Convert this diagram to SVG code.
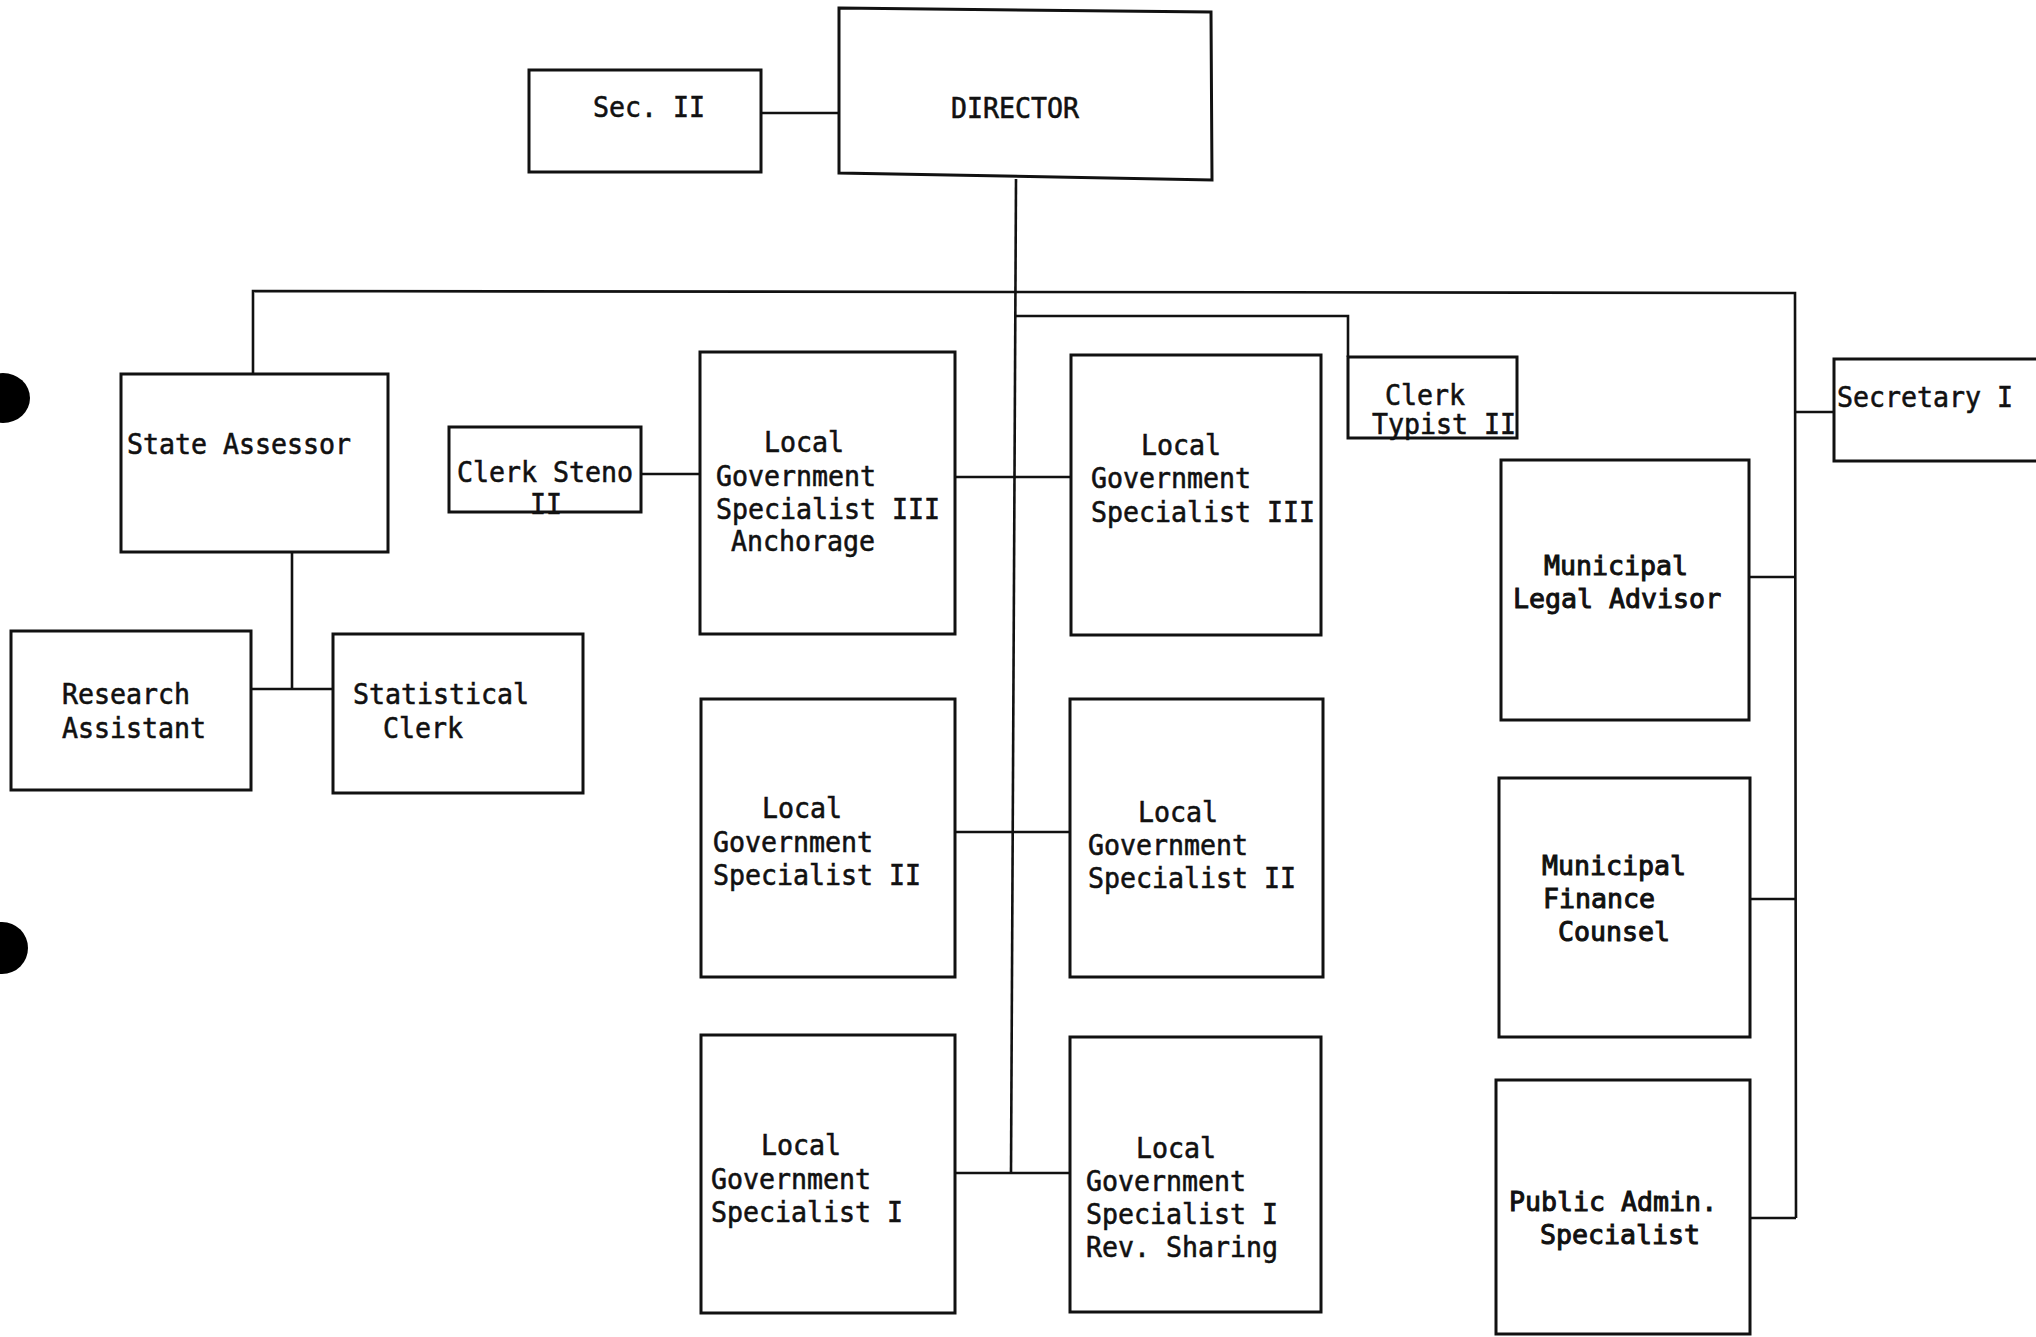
<svg xmlns="http://www.w3.org/2000/svg" width="2036" height="1337" viewBox="0 0 2036 1337">
<style>
.bg{fill:#ffffff}
.box{fill:none;stroke:#111;stroke-width:3}
.ln{fill:none;stroke:#111;stroke-width:2.6}
.t{font-family:"DejaVu Sans Mono","Liberation Mono",monospace;font-size:28.5px;fill:#111;stroke:#111;stroke-width:0.6}
.m{font-family:"DejaVu Sans Mono","Liberation Mono",monospace;font-size:26.6px;fill:#111;stroke:#111;stroke-width:1}
.hole{fill:#000}
</style>
<rect class="bg" x="0" y="0" width="2036" height="1337"/>
<ellipse class="hole" cx="3" cy="398" rx="27" ry="25"/>
<ellipse class="hole" cx="2" cy="948" rx="26" ry="26"/>
<g id="connectors">
<path class="ln" d="M761 113 H839"/>
<path class="ln" d="M1016 179 L1011 1173"/>
<path class="ln" d="M253 374 V291 L1795 293 L1796 1218"/>
<path class="ln" d="M1016 316 H1348 V357"/>
<path class="ln" d="M292 552 V689"/>
<path class="ln" d="M251 689 H333"/>
<path class="ln" d="M641 474 H700"/>
<path class="ln" d="M955 477 H1071"/>
<path class="ln" d="M955 832 H1070"/>
<path class="ln" d="M956 1173 H1070"/>
<path class="ln" d="M1795 412 H1834"/>
<path class="ln" d="M1749 577 H1795"/>
<path class="ln" d="M1750 899 H1795"/>
<path class="ln" d="M1750 1218 H1796"/>
</g>
<g id="director">
<path class="box" d="M839 8 L1211 12 L1212 180 L839 173 Z"/>
<text class="t" x="951" y="118" textLength="128" lengthAdjust="spacingAndGlyphs">DIRECTOR</text>
</g>
<g id="sec2">
<rect class="box" x="529" y="70" width="232" height="102"/>
<text class="t" x="593" y="117" textLength="112" lengthAdjust="spacingAndGlyphs">Sec. II</text>
</g>
<g id="state-assessor">
<rect class="box" x="121" y="374" width="267" height="178"/>
<text class="t" x="127" y="454" textLength="224" lengthAdjust="spacingAndGlyphs">State Assessor</text>
</g>
<g id="research-assistant">
<rect class="box" x="11" y="631" width="240" height="159"/>
<text class="t" x="62" y="704" textLength="128" lengthAdjust="spacingAndGlyphs">Research</text>
<text class="t" x="62" y="738" textLength="144" lengthAdjust="spacingAndGlyphs">Assistant</text>
</g>
<g id="statistical-clerk">
<rect class="box" x="333" y="634" width="250" height="159"/>
<text class="t" x="353" y="704" textLength="176" lengthAdjust="spacingAndGlyphs">Statistical</text>
<text class="t" x="383" y="738" textLength="80" lengthAdjust="spacingAndGlyphs">Clerk</text>
</g>
<g id="clerk-steno">
<rect class="box" x="449" y="427" width="192" height="85"/>
<text class="t" x="457" y="482" textLength="176" lengthAdjust="spacingAndGlyphs">Clerk Steno</text>
<text class="t" x="530" y="514" textLength="32" lengthAdjust="spacingAndGlyphs">II</text>
</g>
<g id="lgs3-anchorage">
<rect class="box" x="700" y="352" width="255" height="282"/>
<text class="t" x="764" y="452" textLength="80" lengthAdjust="spacingAndGlyphs">Local</text>
<text class="t" x="716" y="486" textLength="160" lengthAdjust="spacingAndGlyphs">Government</text>
<text class="t" x="716" y="519" textLength="224" lengthAdjust="spacingAndGlyphs">Specialist III</text>
<text class="t" x="731" y="551" textLength="144" lengthAdjust="spacingAndGlyphs">Anchorage</text>
</g>
<g id="lgs3">
<rect class="box" x="1071" y="355" width="250" height="280"/>
<text class="t" x="1141" y="455" textLength="80" lengthAdjust="spacingAndGlyphs">Local</text>
<text class="t" x="1091" y="488" textLength="160" lengthAdjust="spacingAndGlyphs">Government</text>
<text class="t" x="1091" y="522" textLength="224" lengthAdjust="spacingAndGlyphs">Specialist III</text>
</g>
<g id="clerk-typist">
<rect class="box" x="1348" y="357" width="169" height="81"/>
<text class="t" x="1385" y="405" textLength="80" lengthAdjust="spacingAndGlyphs">Clerk</text>
<text class="t" x="1372" y="434" textLength="144" lengthAdjust="spacingAndGlyphs">Typist II</text>
</g>
<g id="secretary1">
<rect class="box" x="1834" y="359" width="220" height="102"/>
<text class="t" x="1837" y="407" textLength="176" lengthAdjust="spacingAndGlyphs">Secretary I</text>
</g>
<g id="lgs2-left">
<rect class="box" x="701" y="699" width="254" height="278"/>
<text class="t" x="762" y="818" textLength="80" lengthAdjust="spacingAndGlyphs">Local</text>
<text class="t" x="713" y="852" textLength="160" lengthAdjust="spacingAndGlyphs">Government</text>
<text class="t" x="713" y="885" textLength="208" lengthAdjust="spacingAndGlyphs">Specialist II</text>
</g>
<g id="lgs2-right">
<rect class="box" x="1070" y="699" width="253" height="278"/>
<text class="t" x="1138" y="822" textLength="80" lengthAdjust="spacingAndGlyphs">Local</text>
<text class="t" x="1088" y="855" textLength="160" lengthAdjust="spacingAndGlyphs">Government</text>
<text class="t" x="1088" y="888" textLength="208" lengthAdjust="spacingAndGlyphs">Specialist II</text>
</g>
<g id="lgs1-left">
<rect class="box" x="701" y="1035" width="254" height="278"/>
<text class="t" x="761" y="1155" textLength="80" lengthAdjust="spacingAndGlyphs">Local</text>
<text class="t" x="711" y="1189" textLength="160" lengthAdjust="spacingAndGlyphs">Government</text>
<text class="t" x="711" y="1222" textLength="192" lengthAdjust="spacingAndGlyphs">Specialist I</text>
</g>
<g id="lgs1-rev">
<rect class="box" x="1070" y="1037" width="251" height="275"/>
<text class="t" x="1136" y="1158" textLength="80" lengthAdjust="spacingAndGlyphs">Local</text>
<text class="t" x="1086" y="1191" textLength="160" lengthAdjust="spacingAndGlyphs">Government</text>
<text class="t" x="1086" y="1224" textLength="192" lengthAdjust="spacingAndGlyphs">Specialist I</text>
<text class="t" x="1086" y="1257" textLength="192" lengthAdjust="spacingAndGlyphs">Rev. Sharing</text>
</g>
<g id="legal-advisor">
<rect class="box" x="1501" y="460" width="248" height="260"/>
<text class="m" x="1544" y="575">Municipal</text>
<text class="m" x="1513" y="608">Legal Advisor</text>
</g>
<g id="finance-counsel">
<rect class="box" x="1499" y="778" width="251" height="259"/>
<text class="m" x="1542" y="875">Municipal</text>
<text class="m" x="1543" y="908">Finance</text>
<text class="m" x="1558" y="941">Counsel</text>
</g>
<g id="public-admin">
<rect class="box" x="1496" y="1080" width="254" height="254"/>
<text class="m" x="1509" y="1211">Public Admin.</text>
<text class="m" x="1540" y="1244">Specialist</text>
</g>
</svg>
